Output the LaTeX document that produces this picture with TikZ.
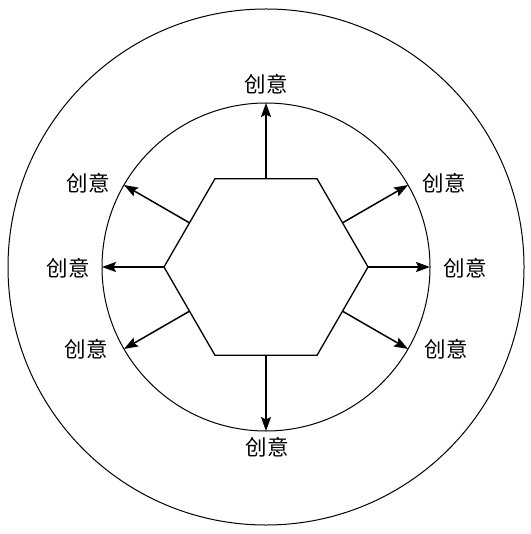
\documentclass[tikz,border=0pt]{standalone}
\usepackage{fontspec}
\newfontfamily\cjk{Noto Sans CJK SC}
\usetikzlibrary{shapes.geometric,arrows.meta}
\begin{document}
\begin{tikzpicture}[x=1pt,y=-1pt,
  ring/.style={circle,draw,inner sep=0pt,outer sep=0pt,line width=1pt},
  hexa/.style={regular polygon,regular polygon sides=6,draw,inner sep=0pt,outer sep=0pt,minimum size=204pt,line width=1.3pt},
  ray/.style={line width=1.5pt,-{Stealth[length=14pt,width=10pt,inset=2.5pt]}},
  lbl/.style={font=\cjk\fontsize{21.5}{23}\selectfont,inner sep=0pt}]
\useasboundingbox (0,0) rectangle (530,534);
\coordinate (c) at (266,267);
\node[ring,minimum size=516pt] (outer) at (c) {};
\node[ring,minimum size=328pt] (inner) at (c) {};
\node[hexa] (hex) at (c) {};
\foreach \a in {0,30,90,150,180,210,270,330}{
  \draw[ray] (hex.\a) -- (inner.\a);
}
\node[lbl] (t) at (266,84) {创意};
\node[lbl] (b) at (267,447) {创意};
\node[lbl] (l) at (68,268) {创意};
\node[lbl] (r) at (465,268) {创意};
\node[lbl] (ul) at (88,183) {创意};
\node[lbl] (ur) at (444,183) {创意};
\node[lbl] (ll) at (86,349) {创意};
\node[lbl] (lr) at (446,349) {创意};
\end{tikzpicture}
\end{document}
